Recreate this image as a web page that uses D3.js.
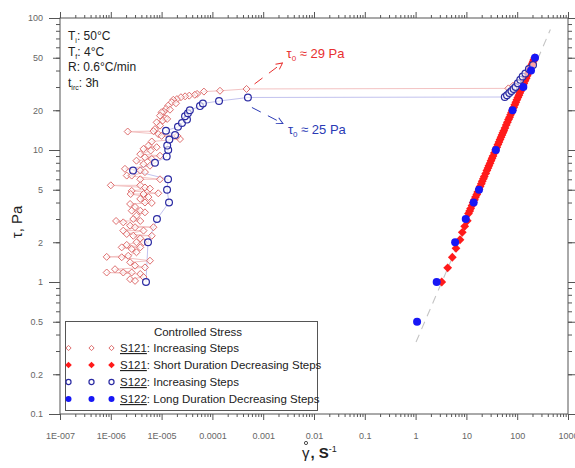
<!DOCTYPE html>
<html>
<head>
<meta charset="utf-8">
<script src="https://cdn.jsdelivr.net/npm/d3@7/dist/d3.min.js"></script>
<style>
  body { margin: 0; background: #fff; }
  svg { display: block; font-family: "Liberation Sans", Arial, Helvetica, sans-serif; }
</style>
</head>
<body>
<svg id="chart" width="575" height="468"></svg>
<script>
// ---- data: [shear rate (1/s), shear stress (Pa)] ----
const s121Inc = [
  [4.7e-4,29],[1.41e-4,28.1],[6.8e-5,27.7],[5.0e-5,26.6],[4.5e-5,26.2],[3.5e-5,25.8],[2.9e-5,25.5],[2.4e-5,25.1],
  [2.0e-5,24.3],[1.7e-5,24.0],[1.58e-5,23.0],[1.92e-5,22.6],[1.35e-5,21.7],[1.22e-5,20.5],[1.46e-5,20.2],[1.11e-5,19.5],
  [1.0e-5,19.3],[9.3e-6,18.2],[1.17e-5,17.4],[1.05e-5,16.7],[1.29e-5,17.2],[8.0e-6,16.2],[9.3e-6,15.3],[7.4e-6,14.4],
  [6.9e-6,13.9],[2.15e-6,13.8],[8.6e-6,13.2],[1.0e-5,12.8],[2.3e-5,12.1],[2.04e-5,12.8],[6.4e-6,11.6],[5.5e-6,10.8],
  [4.4e-6,10.2],[6.1e-6,9.9],[8.0e-6,10.5],[3.8e-6,9.3],[4.7e-6,8.8],[3.2e-6,8.3],[6.4e-6,8.55],[9.3e-6,9.05],
  [4.4e-6,7.8],[5.9e-6,7.6],[1.9e-6,7.2],[2.06e-6,6.4],[2.58e-6,6.4],[3.8e-6,7.0],[4.7e-6,6.8],[3.8e-6,6.0],
  [9.3e-6,6.0],[1.0e-6,5.4],[3.8e-6,5.4],[4.7e-6,5.2],[5.9e-6,5.1],[2.58e-6,4.9],[2.46e-6,4.64],[4.4e-6,4.64],
  [5.5e-6,4.4],[8.6e-6,4.7],[3.8e-6,4.26],[4.7e-6,4.0],[6.4e-6,3.97],[2.4e-6,3.9],[3.0e-6,3.7],[2.58e-6,3.47],
  [3.8e-6,3.47],[4.7e-6,3.37],[3.2e-6,3.18],[2.77e-6,3.0],[1.27e-6,2.9],[1.76e-6,2.83],[3.8e-6,2.9],[2.4e-6,2.67],
  [3.0e-6,2.6],[4.4e-6,2.45],[6.9e-6,2.6],[1.76e-6,2.45],[2.06e-6,2.31],[2.77e-6,2.24],[3.8e-6,2.14],[6.4e-6,2.24],
  [3.2e-6,2.0],[4.4e-6,2.0],[2.06e-6,1.91],[1.64e-6,1.83],[2.58e-6,1.78],[3.8e-6,1.83],[3.2e-6,1.68],[0.83e-6,1.55],
  [1.64e-6,1.54],[2.2e-6,1.58],[5.9e-6,1.45],[2.4e-6,1.41],[3.0e-6,1.33],[4.7e-6,1.29],[1.21e-6,1.25],[0.83e-6,1.18],
  [1.76e-6,1.18],[2.58e-6,1.18],[3.8e-6,1.15],[2.4e-6,1.05],[3.0e-6,1.02],[4.4e-6,1.09],
  [67,29.3],[83,30.7],[108,32.2]
];
const s121Dec = [
  [3.27,1.0],[4.28,1.28],[5.28,1.54],[6.24,1.8],[7.48,2.09],[8.3,2.38],[9.25,2.64],[10.4,2.91],
  [11.0,3.3],[12.1,3.6],[13.6,4.0],[15.1,4.4],[16.7,4.8],[18.6,5.3],[20.5,5.8],[22.5,6.3],[25.3,7.0],
  [27.7,7.6],[30.5,8.3],[33.4,9.0],[37.5,10],[41.7,11],[45.9,12],[50.1,13],[54.4,14],[60.8,15.5],
  [67.4,17],[74,18.5],[80.6,20],[89.6,22],[98.6,24],[108,26],[117,28],[126,30],[135,32],[150,35],
  [164,38],[178,41],[193,44],[207,47],[222,50],
  [11.6,3.45],[12.9,3.8],[14.4,4.2],[16.0,4.6],[17.8,5.05],[19.7,5.55],[21.6,6.05],[24.0,6.65],
  [26.6,7.3],[29.2,7.95],[32.0,8.65],[35.5,9.5],[39.6,10.5],[43.8,11.5],[48.0,12.5],[52.3,13.5],
  [57.5,14.7],[64,16.2],[70.7,17.7],[77.3,19.2],[85,21],[94,23],[103,25],[112,27],[121,29],[130,31],
  [142,33.5],[157,36.5],[171,39.5],[185,42.5],[200,45.5],[214,48.5]
];
const s122Inc = [
  [4.93e-6,1],[5.4e-6,2],[8.1e-6,3],[1.4e-5,4],[1.28e-5,5],[1.34e-5,6],[2.74e-6,7],[7.4e-6,8],[1.26e-5,8.94],
  [1.35e-5,10],[1.29e-5,10.8],[1.42e-5,12],[1.84e-5,13],[1.22e-5,14],[2.1e-5,15],[2.52e-5,16],[3.16e-5,17],
  [2.89e-5,18],[3.3e-5,19],[3.6e-5,20],[5.7e-5,21.5],[6.5e-5,22.5],[1.35e-4,23.5],[5.0e-4,25],
  [57,25.2],[63,26],[70,27],[77,28],[85,29],[93,30],[103,32],[115,34],[128,36],[145,38],[170,41],[205,44]
];
const s122Dec = [
  [1.07,0.5],[2.6,1],[6.0,2],[9.7,3],[13.9,4],[17.7,5],[38,10],[81,20],[132,30],[187,40],[224,50]
];
const fitLine = [[1.02,0.351],[450,81.8]];

const yieldRed = [4.7e-4, 29];   // τ0 ≈ 29 Pa
const yieldBlue = [5.0e-4, 25];  // τ0 ≈ 25 Pa

const xTickValues = [1e-7,1e-6,1e-5,1e-4,1e-3,1e-2,1e-1,1,10,100,1000];
const xTickLabels = ["1E-007","1E-006","1E-005","0.0001","0.001","0.01","0.1","1","10","100","1000"];
const yTickValues = [0.1,0.2,0.5,1,2,5,10,20,50,100];
const yTickLabels = ["0.1","0.2","0.5","1","2","5","10","20","50","100"];

const conditions = [["T","i",": 50°C"],["T","f",": 4°C"],["R","",": 0.6°C/min"],["t","irc",": 3h"]];
const legendTitle = "Controlled Stress";
const legendRows = [
  {id:"S121", text:": Increasing Steps", kind:"redOpen"},
  {id:"S121", text:": Short Duration Decreasing Steps", kind:"redFilled"},
  {id:"S122", text:": Increasing Steps", kind:"blueOpen"},
  {id:"S122", text:": Long Duration Decreasing Steps", kind:"blueFilled"}
];

// ---- colours ----
const C = {
  redOpen: "#de6e6e", redLine: "#f3c2c2", redFilled: "#ff1a1a",
  blueOpen: "#2b2ba3", blueLine: "#c2c2ee", blueFilled: "#1717f5",
  red: "#e8302f", blue: "#2a3ab5", axis: "#555", tick: "#666"
};

// ---- scales ----
const x = d3.scaleLog().domain([1e-7, 1000]).range([60, 568]);
const y = d3.scaleLog().domain([0.1, 100]).range([414, 18]);
const svg = d3.select("#chart");

// minor tick positions k·10^e
function minors(e0, e1) {
  const v = [];
  for (let e = e0; e < e1; e++) for (let k = 2; k <= 9; k++) v.push(+(k + "e" + e));
  return v;
}
const xMinor = minors(-7, 3);
const yMinor = minors(-1, 2);
const yMid = [0.2,0.5,2,5,20,50];
const yMajor = [0.1,1,10,100];

function tickAxis(gen, vals, size, tr) {
  svg.append("g").attr("transform", tr)
    .call(gen.tickValues(vals).tickSize(size).tickFormat(""))
    .call(g => { g.select(".domain").remove(); g.selectAll("line").attr("stroke", C.axis); });
}
// bottom + top
tickAxis(d3.axisBottom(x), xMinor, 3, "translate(0,414)");
tickAxis(d3.axisBottom(x), xTickValues, 6, "translate(0,414)");
tickAxis(d3.axisTop(x), xMinor, 3, "translate(0,18)");
tickAxis(d3.axisTop(x), xTickValues, 6, "translate(0,18)");
// left + right
tickAxis(d3.axisLeft(y), yMinor, 4, "translate(60,0)");
tickAxis(d3.axisLeft(y), yMid, 7, "translate(60,0)");
tickAxis(d3.axisLeft(y), yMajor, 11, "translate(60,0)");
tickAxis(d3.axisRight(y), yMinor, 4, "translate(568,0)");
tickAxis(d3.axisRight(y), yMid, 7, "translate(568,0)");
tickAxis(d3.axisRight(y), yMajor, 11, "translate(568,0)");

// tick labels
svg.append("g").attr("transform", "translate(0,414)")
  .call(d3.axisBottom(x).tickValues(xTickValues).tickSize(0).tickPadding(19)
    .tickFormat((d, i) => xTickLabels[i]))
  .call(g => { g.select(".domain").remove();
    g.selectAll("text").attr("font-size", 9).attr("fill", C.tick).attr("font-family", null); });
svg.append("g").attr("transform", "translate(60,0)")
  .call(d3.axisLeft(y).tickValues(yTickValues).tickSize(0).tickPadding(17)
    .tickFormat((d, i) => yTickLabels[i]))
  .call(g => { g.select(".domain").remove();
    g.selectAll("text").attr("font-size", 9).attr("fill", C.tick).attr("font-family", null); });

// frame
svg.append("rect").attr("x", 60).attr("y", 18).attr("width", 508).attr("height", 396)
  .attr("fill", "none").attr("stroke", C.axis).attr("stroke-width", 1);

// axis titles
svg.append("text").attr("transform", "translate(22,222) rotate(-90)")
  .attr("text-anchor", "middle").attr("font-size", 15).attr("fill", "#222").text("τ, Pa");
const xt = svg.append("text").attr("x", 302).attr("y", 458).attr("font-size", 15).attr("fill", "#222");
xt.append("tspan").text("γ");
xt.append("tspan").text(", S").attr("font-weight", "bold").attr("dx", 1);
xt.append("tspan").text("-1").attr("font-size", 9).attr("dy", -6);
svg.append("circle").attr("cx", 306).attr("cy", 443).attr("r", 1.6)
  .attr("fill", "none").attr("stroke", "#222").attr("stroke-width", 0.8);

// power-law fit
svg.append("path").datum(fitLine)
  .attr("d", d3.line().x(d => x(d[0])).y(d => y(d[1])))
  .attr("fill", "none").attr("stroke", "#c4c4c4").attr("stroke-width", 1.1).attr("stroke-dasharray", "8,6");

// connecting lines of the increasing-step runs
const link = d3.line().x(d => x(d[0])).y(d => y(d[1]));
const byStress = a => a.slice().sort((p, q) => p[1] - q[1]);
svg.append("path").datum(byStress(s121Inc)).attr("d", link)
  .attr("fill", "none").attr("stroke", C.redLine).attr("stroke-width", 1);
svg.append("path").datum(byStress(s122Inc)).attr("d", link)
  .attr("fill", "none").attr("stroke", C.blueLine).attr("stroke-width", 1);

// marker shapes
const diamond = s => `M0,${-s}L${s},0L0,${s}L${-s},0Z`;
function drawMarks(g, data, kind, xs, ys, k = 1) {
  const sel = g.selectAll(null).data(data).enter();
  if (kind === "redOpen") {
    sel.append("path").attr("d", diamond(3.5 * k)).attr("transform", d => `translate(${xs(d)},${ys(d)})`)
      .attr("fill", "#fff").attr("fill-opacity", 0.6).attr("stroke", C.redOpen).attr("stroke-width", 1);
  } else if (kind === "redFilled") {
    sel.append("path").attr("d", diamond(4.4 * k)).attr("transform", d => `translate(${xs(d)},${ys(d)})`)
      .attr("fill", C.redFilled);
  } else if (kind === "blueOpen") {
    sel.append("circle").attr("cx", xs).attr("cy", ys).attr("r", 3.4 * k)
      .attr("fill", "#fff").attr("fill-opacity", 0.6).attr("stroke", C.blueOpen).attr("stroke-width", 1.2);
  } else {
    sel.append("circle").attr("cx", xs).attr("cy", ys).attr("r", 4 * k).attr("fill", C.blueFilled);
  }
}
const px = d => x(d[0]), py = d => y(d[1]);
drawMarks(svg.append("g"), s121Dec, "redFilled", px, py);
drawMarks(svg.append("g"), s121Inc, "redOpen", px, py);
drawMarks(svg.append("g"), s122Inc, "blueOpen", px, py);
drawMarks(svg.append("g"), s122Dec, "blueFilled", px, py);

// yield-stress call-outs
const defs = svg.append("defs");
[["arRed", C.red], ["arBlue", C.blue]].forEach(([id, col]) => {
  defs.append("marker").attr("id", id).attr("viewBox", "0 0 10 10").attr("refX", 9).attr("refY", 5)
    .attr("markerWidth", 8).attr("markerHeight", 8).attr("orient", "auto").attr("markerUnits", "userSpaceOnUse")
    .append("path").attr("d", "M1,1L9,5L1,9").attr("fill", "none").attr("stroke", col).attr("stroke-width", 1.2);
});
function callout(pt, d0, d1, col, mk, tx, ty, val) {
  const X = x(pt[0]), Y = y(pt[1]);
  svg.append("line").attr("x1", X + d0[0]).attr("y1", Y + d0[1]).attr("x2", X + d1[0]).attr("y2", Y + d1[1])
    .attr("stroke", col).attr("stroke-width", 1).attr("stroke-dasharray", "10,8").attr("marker-end", `url(#${mk})`);
  const t = svg.append("text").attr("x", X + tx).attr("y", Y + ty).attr("font-size", 13).attr("fill", col);
  t.append("tspan").text("τ");
  t.append("tspan").text("0").attr("font-size", 8).attr("dy", 3);
  t.append("tspan").text(` ≈ ${val} Pa`).attr("dy", -3);
}
callout(yieldRed, [8, -5], [36, -26], C.red, "arRed", 40, -31, yieldRed[1]);
callout(yieldBlue, [4, 10], [35, 26], C.blue, "arBlue", 40, 37, yieldBlue[1]);

// test conditions
conditions.forEach((c, i) => {
  const t = svg.append("text").attr("x", 68).attr("y", 40 + i * 15.5).attr("font-size", 12).attr("fill", "#222");
  t.append("tspan").text(c[0]);
  if (c[1]) t.append("tspan").text(c[1]).attr("font-size", 7).attr("dy", 3);
  t.append("tspan").text(c[2]).attr("dy", c[1] ? -3 : 0);
});

// legend
const lg = svg.append("g");
lg.append("rect").attr("x", 65.5).attr("y", 321.5).attr("width", 252).attr("height", 89)
  .attr("fill", "#fff").attr("stroke", C.axis).attr("stroke-width", 1);
lg.append("text").attr("x", 198).attr("y", 336).attr("text-anchor", "middle")
  .attr("font-size", 11.5).attr("fill", "#222").text(legendTitle);
legendRows.forEach((r, i) => {
  const cy = 348 + i * 17;
  drawMarks(lg.append("g"), [68.5, 91.5, 111.5], r.kind, d => d, () => cy, 0.75);
  const t = lg.append("text").attr("x", 120).attr("y", cy + 4).attr("font-size", 11.5).attr("fill", "#222");
  t.append("tspan").text(r.id).attr("text-decoration", "underline");
  t.append("tspan").text(r.text);
});
</script>
</body>
</html>
